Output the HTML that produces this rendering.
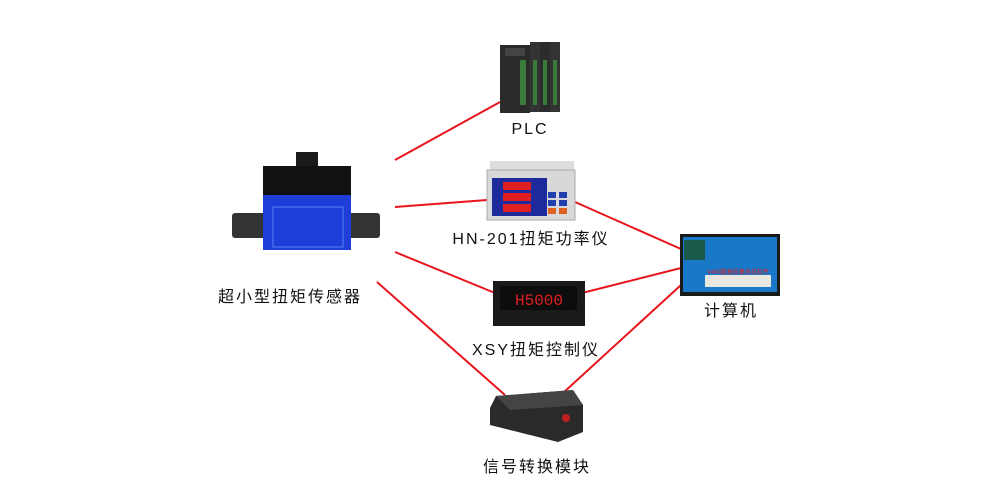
<!DOCTYPE html>
<html><head><meta charset="utf-8"><style>
body{margin:0;width:990px;height:481px;background:#fff;position:relative;overflow:hidden;font-family:"Liberation Sans","Noto Sans CJK SC",sans-serif}
.t{position:absolute;font-size:16px;color:#111;letter-spacing:2px;white-space:nowrap;transform:translateX(-50%)}
.a{position:absolute}
</style></head><body>
<svg class="a" style="left:0;top:0" width="990" height="481">
<g stroke="#e8141c" stroke-width="2">
<line x1="395" y1="160" x2="500" y2="102"/>
<line x1="395" y1="207" x2="487" y2="200"/>
<line x1="395" y1="252" x2="495" y2="293"/>
<line x1="377" y1="282" x2="505" y2="395"/>
<line x1="575" y1="202" x2="681" y2="249"/>
<line x1="582" y1="293" x2="681" y2="268"/>
<line x1="563" y1="393" x2="681" y2="285"/>
</g>
<!-- PLC -->
<g>
<rect x="500" y="45" width="30" height="68" fill="#2a2a2a"/>
<rect x="530" y="42" width="10" height="70" fill="#333"/>
<rect x="540" y="42" width="10" height="70" fill="#2c2c2c"/>
<rect x="550" y="42" width="10" height="70" fill="#333"/>
<rect x="505" y="48" width="20" height="8" fill="#444"/>
<rect x="533" y="60" width="4" height="45" fill="#3a7a3a"/>
<rect x="543" y="60" width="4" height="45" fill="#3a7a3a"/>
<rect x="553" y="60" width="4" height="45" fill="#3a7a3a"/>
<rect x="520" y="60" width="6" height="45" fill="#3a7a3a"/>
</g>
<!-- HN-201 -->
<rect x="490" y="161" width="84" height="10" fill="#ddd"/>
<rect x="487" y="170" width="88" height="50" fill="#d8d8d8" stroke="#aaa"/>
<rect x="492" y="178" width="55" height="38" fill="#1c2a9c"/>
<g fill="#e02020"><rect x="503" y="182" width="28" height="8"/><rect x="503" y="193" width="28" height="8"/><rect x="503" y="204" width="28" height="8"/></g>
<g fill="#2040b0"><rect x="548" y="192" width="8" height="6"/><rect x="559" y="192" width="8" height="6"/><rect x="548" y="200" width="8" height="6"/><rect x="559" y="200" width="8" height="6"/></g>
<g fill="#e06020"><rect x="548" y="208" width="8" height="6"/><rect x="559" y="208" width="8" height="6"/></g>
<!-- XSY -->
<rect x="493" y="281" width="92" height="45" fill="#1a1a1a"/>
<rect x="500" y="286" width="77" height="24" fill="#0d0d0d"/>
<text x="515" y="305" fill="#e02020" font-size="16" font-family="Liberation Mono">H5000</text>
<!-- Module -->
<polygon points="496,396 573,390 583,405 583,432 558,442 490,425 490,408" fill="#2a2a2a"/>
<polygon points="496,396 573,390 583,405 510,410" fill="#444"/>
<circle cx="566" cy="418" r="4" fill="#c02020"/>
<!-- PC -->
<rect x="680" y="234" width="100" height="62" fill="#1a1a1a"/>
<rect x="683" y="237" width="94" height="55" fill="#1a78c8"/>
<rect x="684" y="240" width="21" height="20" fill="#1a5a4a"/>
<rect x="705" y="275" width="66" height="12" fill="#e8e8e0"/>
<text x="707" y="274" fill="#e02020" font-size="6">V400数据采集系统软件</text>
<!-- Sensor -->
<rect x="232" y="213" width="40" height="25" rx="3" fill="#333"/>
<rect x="340" y="213" width="40" height="25" rx="3" fill="#333"/>
<rect x="296" y="152" width="22" height="22" fill="#1a1a1a"/>
<rect x="263" y="166" width="88" height="30" fill="#111"/>
<rect x="263" y="195" width="88" height="55" fill="#1d3fd8"/>
<rect x="273" y="207" width="70" height="40" fill="none" stroke="#7a9aff" stroke-width="0.7"/>
</svg>
<div class="t" style="left:530px;top:121px">PLC</div>
<div class="t" style="left:531px;top:225px">HN-201扭矩功率仪</div>
<div class="t" style="left:536px;top:336px">XSY扭矩控制仪</div>
<div class="t" style="left:537px;top:453px">信号转换模块</div>
<div class="t" style="left:731px;top:297px">计算机</div>
<div class="t" style="left:290px;top:283px">超小型扭矩传感器</div>
</body></html>
